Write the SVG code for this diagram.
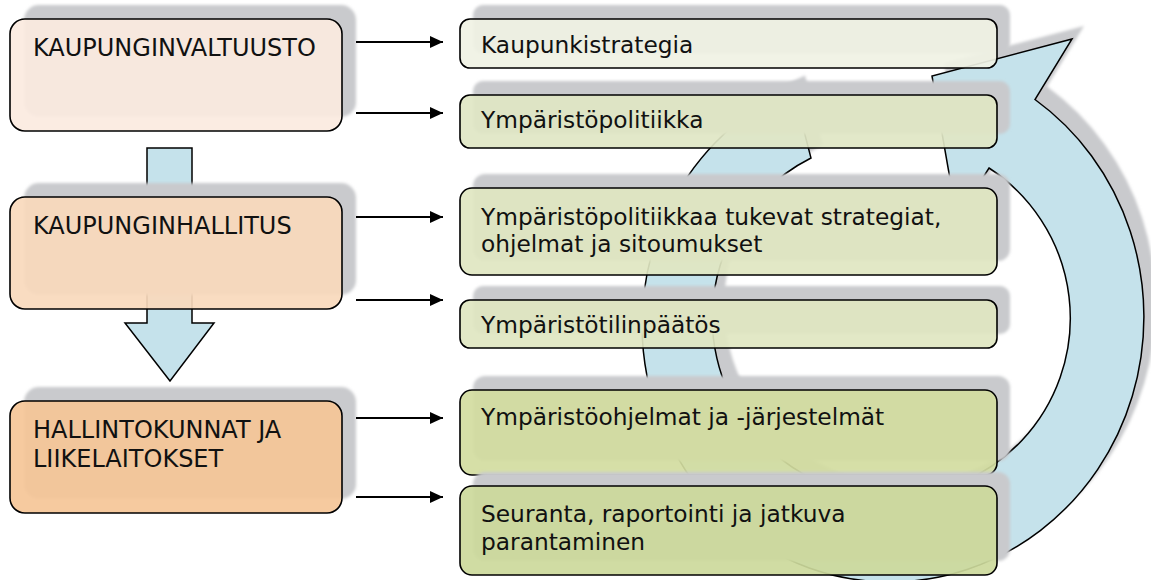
<svg xmlns="http://www.w3.org/2000/svg" width="1151" height="580" viewBox="0 0 1151 580">
<defs>
<filter id="soft" x="-10%" y="-10%" width="120%" height="120%"><feGaussianBlur stdDeviation="1.6"/></filter>
<marker id="ah" markerUnits="userSpaceOnUse" markerWidth="14" markerHeight="12" refX="13" refY="6" orient="auto"><path d="M0,0 L13,6 L0,12 Z" fill="#000"/></marker>
</defs>
<style>
text{font-family:"DejaVu Sans","Liberation Sans",Verdana,sans-serif;font-size:23.3px;fill:#111}
text.big{font-size:24px}
.sh{fill:#c9cacd;filter:url(#soft)}
.box{stroke:#000;stroke-width:1.6;fill-opacity:0.92}
.blue{fill:#c5e2eb;stroke:#000;stroke-width:1.5;stroke-linejoin:miter}
.con{stroke:#000;stroke-width:2;fill:none;marker-end:url(#ah)}
</style>
<rect width="1151" height="580" fill="#fff"/>

<g id="cycle-arrow">
<path class="sh" transform="translate(12,-13)" d="M 793 88.5 L 811 158 A 179 179 0 1 0 989 168 L 957 219 L 932 76 L 1072 39 L 1035 99.5 A 254 265 0 0 1 890 582 A 248 257 0 0 1 793 88.5 Z"/>
<path class="blue" d="M 793 88.5 L 811 158 A 179 179 0 1 0 989 168 L 957 219 L 932 76 L 1072 39 L 1035 99.5 A 254 265 0 0 1 890 582 A 248 257 0 0 1 793 88.5 Z"/>
</g>

<g id="down-arrow">
<path class="blue" d="M147,148 L192,148 L192,323 L214,323 L170,381 L125,323 L147,323 Z"/>
</g>

<g id="kaupunginvaltuusto">
<rect class="sh" x="24" y="5" width="332" height="112" rx="15"/>
<rect class="box" x="10" y="19" width="332" height="112" rx="15" fill="#fbeadf"/>
<text class="big" x="33" y="56">KAUPUNGINVALTUUSTO</text>
</g>
<g id="kaupunginhallitus">
<rect class="sh" x="24" y="183" width="332" height="112" rx="15"/>
<rect class="box" x="10" y="197" width="332" height="112" rx="15" fill="#f8d9bc"/>
<text class="big" x="33" y="234">KAUPUNGINHALLITUS</text>
</g>
<g id="hallintokunnat">
<rect class="sh" x="24" y="387" width="332" height="112" rx="15"/>
<rect class="box" x="10" y="401" width="332" height="112" rx="15" fill="#f5c697"/>
<text class="big" x="33" y="438">HALLINTOKUNNAT JA</text>
<text class="big" x="33" y="467">LIIKELAITOKSET</text>
</g>

<g id="kaupunkistrategia">
<rect class="sh" x="473" y="5" width="537" height="49" rx="10"/>
<rect class="box" x="460" y="19" width="537" height="49" rx="10" fill="#f0f2e4"/>
<text x="481" y="53">Kaupunkistrategia</text>
</g>
<g id="ymparistopolitiikka">
<rect class="sh" x="473" y="81" width="537" height="53" rx="10"/>
<rect class="box" x="460" y="95" width="537" height="53" rx="10" fill="#e0e6c4"/>
<text x="481" y="128">Ympäristöpolitiikka</text>
</g>
<g id="strategiat">
<rect class="sh" x="473" y="174" width="537" height="87" rx="12"/>
<rect class="box" x="460" y="188" width="537" height="87" rx="12" fill="#dfe6c1"/>
<text x="481" y="225">Ympäristöpolitiikkaa tukevat strategiat,</text>
<text x="481" y="252">ohjelmat ja sitoumukset</text>
</g>
<g id="tilinpaatos">
<rect class="sh" x="473" y="286" width="537" height="48" rx="10"/>
<rect class="box" x="460" y="300" width="537" height="48" rx="10" fill="#dfe6c1"/>
<text x="481" y="333">Ympäristötilinpäätös</text>
</g>
<g id="ymparistoohjelmat">
<rect class="sh" x="473" y="376" width="537" height="85" rx="12"/>
<rect class="box" x="460" y="390" width="537" height="85" rx="12" fill="#d2dc9f"/>
<text x="481" y="425">Ympäristöohjelmat ja -järjestelmät</text>
</g>
<g id="seuranta">
<rect class="sh" x="473" y="472" width="537" height="89" rx="12"/>
<rect class="box" x="460" y="486" width="537" height="89" rx="12" fill="#ccd99b"/>
<text x="481" y="522">Seuranta, raportointi ja jatkuva</text>
<text x="481" y="550">parantaminen</text>
</g>

<g id="connectors">
<line class="con" x1="356" y1="42" x2="443" y2="42"/>
<line class="con" x1="356" y1="113" x2="443" y2="113"/>
<line class="con" x1="356" y1="217" x2="443" y2="217"/>
<line class="con" x1="356" y1="300" x2="443" y2="300"/>
<line class="con" x1="356" y1="418" x2="443" y2="418"/>
<line class="con" x1="356" y1="497" x2="443" y2="497"/>
</g>
</svg>
